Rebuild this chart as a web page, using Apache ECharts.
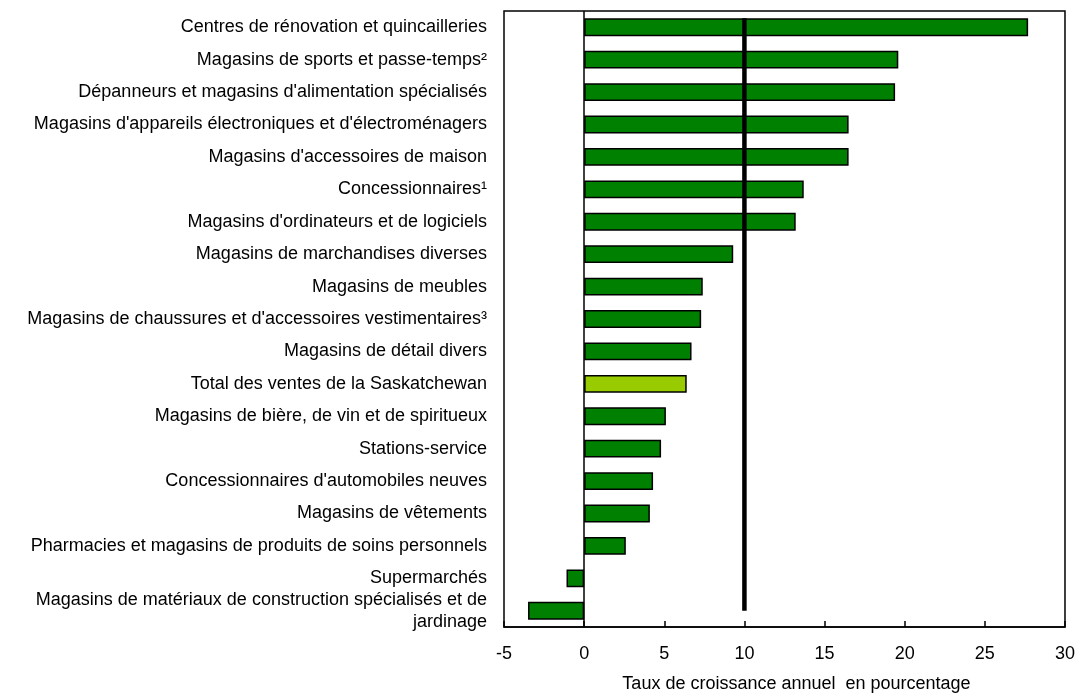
<!DOCTYPE html>
<html>
<head>
<meta charset="utf-8">
<script src="https://cdn.jsdelivr.net/npm/echarts@6/dist/echarts.min.js"></script>
<style>
  html, body { margin: 0; padding: 0; background: #fff; }
  #chart { width: 1078px; height: 698px; }
</style>
</head>
<body>
<div id="chart"></div>
<script>
// Retail categories, listed from top to bottom
const categories = [
  "Centres de rénovation et quincailleries",
  "Magasins de sports et passe-temps²",
  "Dépanneurs et magasins d'alimentation spécialisés",
  "Magasins d'appareils électroniques et d'électroménagers",
  "Magasins d'accessoires de maison",
  "Concessionnaires¹",
  "Magasins d'ordinateurs et de logiciels",
  "Magasins de marchandises diverses",
  "Magasins de meubles",
  "Magasins de chaussures et d'accessoires vestimentaires³",
  "Magasins de détail divers",
  "Total des ventes de la Saskatchewan",
  "Magasins de bière, de vin et de spiritueux",
  "Stations-service",
  "Concessionnaires d'automobiles neuves",
  "Magasins de vêtements",
  "Pharmacies et magasins de produits de soins personnels",
  "Supermarchés",
  "Magasins de matériaux de construction spécialisés et de\njardinage"
];

// Annual growth rate, in percent
const growthRates = [
  27.7, 19.6, 19.4, 16.5, 16.5, 13.7, 13.2, 9.3, 7.4, 7.3,
  6.7, 6.4, 5.1, 4.8, 4.3, 4.1, 2.6, -1.1, -3.5
];

// Provincial total, shown in a lighter colour
const totalCategory = "Total des ventes de la Saskatchewan";

// Reference growth rate drawn as a thick vertical rule
const referenceRate = 10;

// x axis ticks
const xTicks = [-5, 0, 5, 10, 15, 20, 25, 30];

const axisTitle = "Taux de croissance annuel  en pourcentage";

const FONT = "'Liberation Sans', Arial, sans-serif";
const GREEN = "#008000";
const LIGHT_GREEN = "#99CC00";

const chart = echarts.init(document.getElementById("chart"), null, { renderer: "canvas" });

const barData = growthRates.map((v, i) => ({
  value: v,
  itemStyle: { color: categories[i] === totalCategory ? LIGHT_GREEN : GREEN }
}));

chart.setOption({
  animation: false,
  backgroundColor: "#fff",
  grid: {
    left: 504, right: 10, top: 11, bottom: 65,
    show: true, borderColor: "#000", borderWidth: 1.5,
    containLabel: false
  },
  xAxis: {
    type: "value",
    min: xTicks[0],
    max: xTicks[xTicks.length - 1],
    interval: xTicks[1] - xTicks[0],
    axisLine: { show: true, onZero: false, lineStyle: { color: "#000", width: 1.5 } },
    axisTick: { show: true, inside: true, length: 6, lineStyle: { color: "#000", width: 1.5 } },
    splitLine: { show: false },
    axisLabel: { color: "#000", fontFamily: FONT, fontSize: 18, margin: 18 },
    name: axisTitle,
    nameLocation: "middle",
    nameGap: 48,
    nameTextStyle: { color: "#000", fontFamily: FONT, fontSize: 18, padding: [0, 0, 0, 24] }
  },
  yAxis: [
    {
      type: "category",
      data: categories,
      inverse: true,
      axisLine: { show: false, onZero: false },
      axisTick: { show: false },
      splitLine: { show: false },
      axisLabel: {
        color: "#000", fontFamily: FONT, fontSize: 18, margin: 17,
        lineHeight: 22, interval: 0
      }
    },
    {
      // index-aligned helper axis for the reference rule
      type: "value",
      min: -0.5,
      max: categories.length - 0.5,
      inverse: true,
      show: false
    }
  ],
  series: [
    {
      type: "bar",
      yAxisIndex: 0,
      data: barData,
      barWidth: "55%",
      itemStyle: { borderColor: "#000", borderWidth: 1.5 },
      markLine: {
        silent: true,
        symbol: "none",
        label: { show: false },
        lineStyle: { color: "#000", width: 1.5, type: "solid" },
        data: [{ xAxis: 0 }]
      },
      z: 2
    },
    {
      type: "line",
      yAxisIndex: 1,
      data: [[referenceRate, -0.28], [referenceRate, categories.length - 1]],
      symbol: "none",
      silent: true,
      lineStyle: { color: "#000", width: 4.5 },
      z: 3
    }
  ]
});
</script>
</body>
</html>
